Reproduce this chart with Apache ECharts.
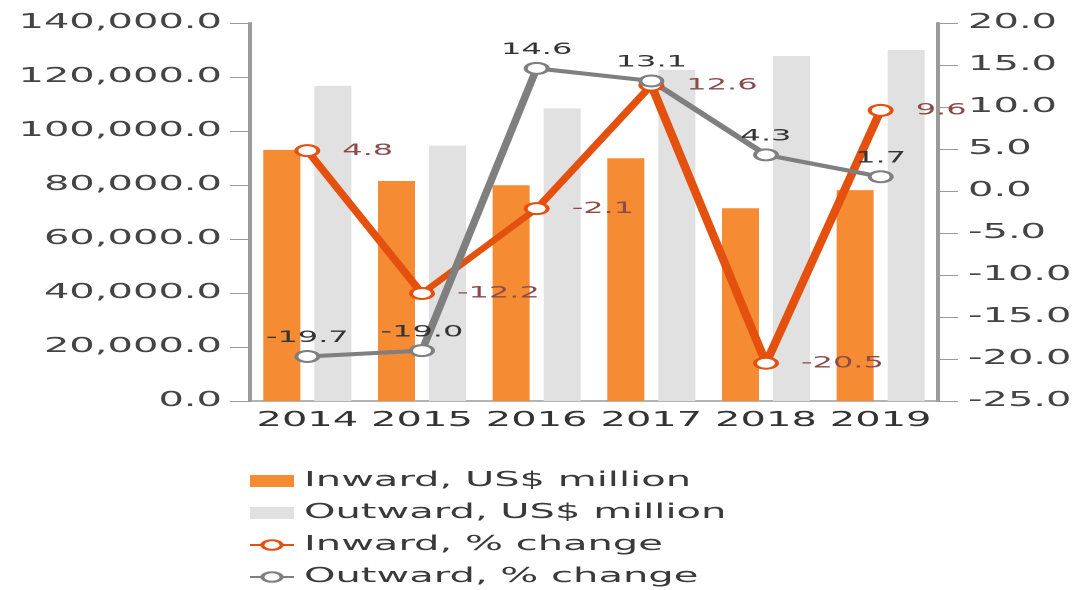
<!DOCTYPE html>
<html>
<head>
<meta charset="utf-8">
<script src="https://cdn.jsdelivr.net/npm/echarts@6/dist/echarts.min.js"></script>
<style>
  html, body { margin: 0; padding: 0; background: #fff; overflow: hidden; }
  /* the reference is stretched twice as wide as it is tall */
  #chart {
    width: 541.5px;
    height: 590px;
    transform: scaleX(2);
    transform-origin: 0 0;
  }
</style>
</head>
<body>
<div id="chart"></div>
<script>
  const years = ['2014', '2015', '2016', '2017', '2018', '2019']
  const inwardUsd = [93000, 81500, 79900, 89900, 71400, 78100]
  const outwardUsd = [116700, 94600, 108400, 122600, 127800, 130000]
  const inwardPct = [4.8, -12.2, -2.1, 12.6, -20.5, 9.6]
  const outwardPct = [-19.7, -19.0, 14.6, 13.1, 4.3, 1.7]

  const font = 'DejaVu Sans'
  const axisGrey = '#9a9a9a'

  const chart = echarts.init(document.getElementById('chart'), null, { devicePixelRatio: 2 })

  const option = {
    backgroundColor: '#fff',
    animation: false,
    textStyle: { fontFamily: font },
    grid: { left: 125, right: 73, top: 23, bottom: 189 },
    legend: {
      orient: 'vertical',
      left: 124,
      top: 471,
      padding: 0,
      itemWidth: 22,
      itemHeight: 12,
      itemGap: 12,
      textStyle: { fontFamily: font, fontSize: 20, lineHeight: 20, color: '#3a3a3a' },
      data: [
        { name: 'Inward, US$ million', icon: 'rect' },
        { name: 'Outward, US$ million', icon: 'rect' },
        'Inward, % change',
        'Outward, % change'
      ]
    },
    xAxis: {
      type: 'category',
      data: years,
      axisLine: { lineStyle: { color: axisGrey, width: 1.5 } },
      axisTick: { alignWithLabel: true, length: 7, lineStyle: { color: axisGrey } },
      axisLabel: { interval: 0, fontFamily: font, fontSize: 20, color: '#333', margin: 10 }
    },
    yAxis: [
      {
        type: 'value',
        min: 0,
        max: 140000,
        interval: 20000,
        axisLine: { show: true, lineStyle: { color: axisGrey, width: 2 } },
        axisTick: { show: true, length: 10, lineStyle: { color: axisGrey } },
        splitLine: { show: false },
        axisLabel: {
          fontFamily: font,
          fontSize: 20,
          color: '#444',
          margin: 14,
          formatter: (v) => v.toLocaleString('en-US', { minimumFractionDigits: 1 })
        }
      },
      {
        type: 'value',
        min: -25,
        max: 20,
        interval: 5,
        axisLine: { show: true, lineStyle: { color: axisGrey, width: 2 } },
        axisTick: { show: true, length: 10, lineStyle: { color: axisGrey } },
        splitLine: { show: false },
        axisLabel: {
          fontFamily: font,
          fontSize: 20,
          color: '#444',
          margin: 15,
          formatter: (v) => v.toFixed(1)
        }
      }
    ],
    series: [
      {
        name: 'Inward, US$ million',
        type: 'bar',
        barWidth: 18.5,
        barGap: '38%',
        itemStyle: { color: '#f58b32' },
        data: inwardUsd
      },
      {
        name: 'Outward, US$ million',
        type: 'bar',
        barWidth: 18.5,
        itemStyle: { color: '#e1e1e1' },
        data: outwardUsd
      },
      {
        name: 'Inward, % change',
        type: 'line',
        yAxisIndex: 1,
        symbol: 'emptyCircle',
        symbolSize: 11,
        lineStyle: { width: 4.5, color: '#e4500e' },
        itemStyle: { color: '#e4500e', borderWidth: 3.5 },
        label: {
          show: true,
          position: 'right',
          distance: 11,
          fontFamily: font,
          fontSize: 16,
          color: '#8c4a4a',
          formatter: (p) => p.value.toFixed(1)
        },
        data: inwardPct
      },
      {
        name: 'Outward, % change',
        type: 'line',
        yAxisIndex: 1,
        symbol: 'emptyCircle',
        symbolSize: 11,
        lineStyle: { width: 4, color: '#7f7f7f' },
        itemStyle: { color: '#7f7f7f', borderWidth: 3.5 },
        label: {
          show: true,
          position: 'top',
          distance: 4,
          fontFamily: font,
          fontSize: 16,
          color: '#333',
          formatter: (p) => p.value.toFixed(1)
        },
        data: outwardPct
      }
    ]
  }

  chart.setOption(option)
</script>
</body>
</html>
